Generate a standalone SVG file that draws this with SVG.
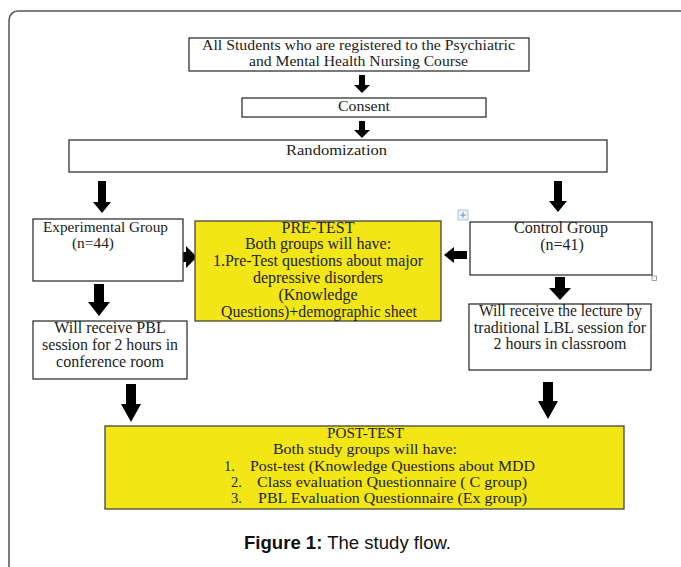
<svg xmlns="http://www.w3.org/2000/svg" width="681" height="567" viewBox="0 0 681 567">
<defs>
<style>
.box{fill:#fff;stroke:#333;stroke-width:1.3}
.yel{fill:#f3e616;stroke:#444;stroke-width:1.3}
.t{font-family:"Liberation Serif","Times New Roman",serif;font-size:15.5px;fill:#222}
.p{font-size:14.5px}
.c{text-anchor:middle}
.arr{fill:#000}
.cap{font-family:"Liberation Sans",Arial,sans-serif;font-size:18px;fill:#111}
</style>
</defs>
<rect x="9" y="11" width="690" height="570" rx="9" ry="9" fill="#fff" stroke="#555" stroke-width="1.5"/>

<g id="connectors">
<polygon class="arr" points="359,75 365,75 365,85 370,85 362,93 354,85 359,85"/>
<polygon class="arr" points="359,121 365,121 365,130 370,130 362,138 354,130 359,130"/>
<polygon class="arr" points="98,181 106,181 106,202 111,202 102,213 93,202 98,202"/>
<polygon class="arr" points="554,181 562,181 562,201 567,201 558,212 549,201 554,201"/>
<polygon class="arr" points="94,284 104,284 104,302 110,302 99,316 88,302 94,302"/>
<polygon class="arr" points="555,277 565,277 565,288 571,288 560,300 549,288 555,288"/>
<polygon class="arr" points="126,384 136,384 136,404 141,404 131,422 121,404 126,404"/>
<polygon class="arr" points="543,382 553,382 553,401 558,401 548,419 538,401 543,401"/>
<polygon class="arr" points="177,252 186,252 186,246 197,257 186,268 186,262 177,262"/>
<polygon class="arr" points="467,251 454,251 454,247 444,255 454,263 454,259 467,259"/>
</g>

<g id="n-students">
<rect class="box" x="189" y="38" width="340" height="33"/>
<text class="t" x="202" y="50" textLength="313" lengthAdjust="spacingAndGlyphs">All Students who are registered to the Psychiatric</text>
<text class="t" x="249" y="66" textLength="219" lengthAdjust="spacingAndGlyphs">and Mental Health Nursing Course</text>
</g>
<g id="n-consent">
<rect class="box" x="242" y="98" width="244" height="19"/>
<text class="t" x="338" y="111" textLength="52" lengthAdjust="spacingAndGlyphs">Consent</text>
</g>
<g id="n-random">
<rect class="box" x="69" y="140" width="538" height="32"/>
<text class="t" x="286" y="155" textLength="101" lengthAdjust="spacingAndGlyphs">Randomization</text>
</g>
<g id="n-exp">
<rect class="box" x="33" y="219" width="150" height="62"/>
<text class="t" x="43" y="232" textLength="125" lengthAdjust="spacingAndGlyphs" style="font-size:15px">Experimental Group</text>
<text class="t" x="72" y="248" textLength="42" lengthAdjust="spacingAndGlyphs" style="font-size:15px">(n=44)</text>
</g>
<g id="n-pretest">
<rect class="yel" x="195" y="221" width="246" height="100"/>
<text class="t c" x="318" y="233" style="font-size:16px">PRE-TEST</text>
<text class="t c" x="318" y="249" style="font-size:16px">Both groups will have:</text>
<text class="t" x="213" y="266" textLength="210" lengthAdjust="spacingAndGlyphs" style="font-size:16px">1.Pre-Test questions about major</text>
<text class="t c" x="318" y="283" style="font-size:16px">depressive disorders</text>
<text class="t c" x="318" y="300" style="font-size:16px">(Knowledge</text>
<text class="t" x="221" y="317" textLength="196" lengthAdjust="spacingAndGlyphs" style="font-size:16px">Questions)+demographic sheet</text>
</g>
<g id="n-control">
<rect class="box" x="470" y="222" width="182" height="53"/>
<text class="t" x="514" y="233" textLength="94" lengthAdjust="spacingAndGlyphs" style="font-size:16px">Control Group</text>
<text class="t c" x="562" y="250" style="font-size:16px">(n=41)</text>
<rect x="652" y="276" width="4.5" height="4.5" fill="#fff" stroke="#888" stroke-width="0.8"/>
<g stroke="#5a7fb5" stroke-width="0.8" fill="none">
<rect x="458" y="210" width="10" height="10" fill="#eef3fa" stroke="#9fb3d0"/>
<path d="M463,212 V218 M460,215 H466"/>
</g>
</g>
<g id="n-pbl">
<rect class="box" x="33" y="321" width="154" height="58"/>
<text class="t c" x="110" y="333" style="font-size:16px">Will receive PBL</text>
<text class="t" x="42" y="350" textLength="136" lengthAdjust="spacingAndGlyphs" style="font-size:16px">session for 2 hours in</text>
<text class="t c" x="110" y="367" style="font-size:16px">conference room</text>
</g>
<g id="n-lbl">
<rect class="box" x="469" y="304" width="182" height="66"/>
<text class="t" x="479" y="316" textLength="163" lengthAdjust="spacingAndGlyphs" style="font-size:16px">Will receive the lecture by</text>
<text class="t c" x="560" y="333" style="font-size:16px">traditional LBL session for</text>
<text class="t c" x="560" y="349" style="font-size:16px">2 hours in classroom</text>
</g>
<g id="n-posttest">
<rect class="yel" x="105" y="426" width="519" height="83"/>
<text class="t p" x="327" y="438" textLength="77" lengthAdjust="spacingAndGlyphs">POST-TEST</text>
<text class="t p" x="273" y="454" textLength="184" lengthAdjust="spacingAndGlyphs">Both study groups will have:</text>
<text class="t p" x="224" y="471">1.</text>
<text class="t p" x="250" y="471" textLength="285" lengthAdjust="spacingAndGlyphs">Post-test (Knowledge Questions about MDD</text>
<text class="t p" x="231" y="487">2.</text>
<text class="t p" x="257" y="487" textLength="270" lengthAdjust="spacingAndGlyphs">Class evaluation Questionnaire ( C group)</text>
<text class="t p" x="231" y="503">3.</text>
<text class="t p" x="258" y="503" textLength="269" lengthAdjust="spacingAndGlyphs">PBL Evaluation Questionnaire (Ex group)</text>
</g>
<text class="cap" x="244" y="549" textLength="207" lengthAdjust="spacingAndGlyphs"><tspan font-weight="bold">Figure 1:</tspan> The study flow.</text>
</svg>
